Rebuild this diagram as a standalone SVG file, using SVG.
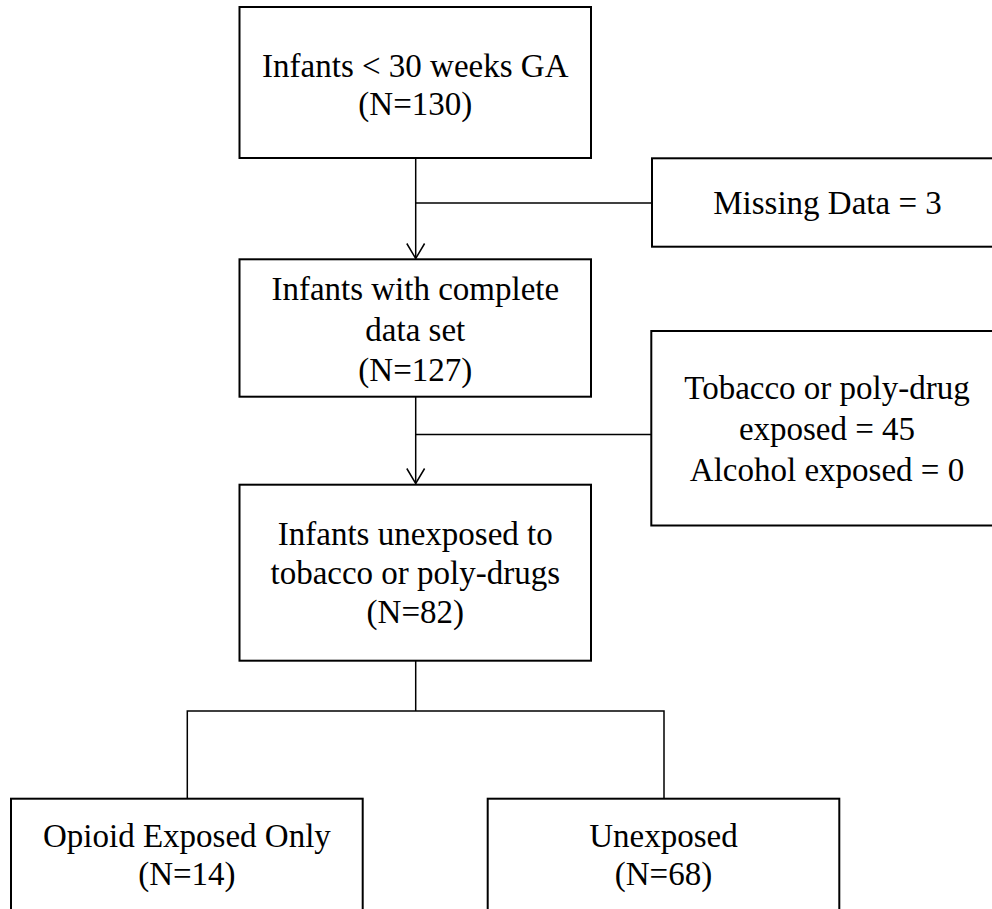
<svg xmlns="http://www.w3.org/2000/svg" width="992" height="909" viewBox="0 0 992 909">
<style>
.box{fill:#fff;stroke:#000;stroke-width:2}
.t{font-family:"Liberation Serif","Times New Roman",serif;font-size:33px;fill:#000;text-anchor:middle}
.c{fill:none;stroke:#000;stroke-width:1.5}
</style>
<rect width="992" height="909" fill="#fff"/>
<g id="connectors">
<line class="c" x1="415.7" y1="158" x2="415.7" y2="258"/>
<line class="c" x1="415.7" y1="203" x2="652" y2="203"/>
<polyline class="c" points="406.8,243.5 415.7,258.5 424.6,243.5"/>
<line class="c" x1="415.7" y1="397" x2="415.7" y2="483.5"/>
<line class="c" x1="415.7" y1="434.5" x2="651" y2="434.5"/>
<polyline class="c" points="406.8,468.5 415.7,483.5 424.6,468.5"/>
<line class="c" x1="415.7" y1="661" x2="415.7" y2="711"/>
<polyline class="c" points="187.3,799 187.3,711 664,711 664,799"/>
</g>
<g id="n1">
<rect class="box" x="239.5" y="7" width="351.5" height="151"/>
<text class="t" x="415.3" y="77">Infants &lt; 30 weeks GA</text>
<text class="t" x="415.3" y="115">(N=130)</text>
</g>
<g id="n_missing">
<rect class="box" x="652" y="158.3" width="360" height="88.4"/>
<text class="t" x="827.5" y="214">Missing Data = 3</text>
</g>
<g id="n2">
<rect class="box" x="239.5" y="259.3" width="351.5" height="137.4"/>
<text class="t" x="415.3" y="300">Infants with complete</text>
<text class="t" x="415.3" y="340.5">data set</text>
<text class="t" x="415.3" y="380.5">(N=127)</text>
</g>
<g id="n_tobacco">
<rect class="box" x="651.3" y="331" width="360" height="194.5"/>
<text class="t" x="827" y="399">Tobacco or poly-drug</text>
<text class="t" x="827" y="440">exposed = 45</text>
<text class="t" x="827" y="481">Alcohol exposed = 0</text>
</g>
<g id="n3">
<rect class="box" x="239.5" y="484.7" width="351.5" height="176"/>
<text class="t" x="415.3" y="545">Infants unexposed to</text>
<text class="t" x="415.3" y="583.5">tobacco or poly-drugs</text>
<text class="t" x="415.3" y="623">(N=82)</text>
</g>
<g id="n_opioid">
<rect class="box" x="11" y="798.7" width="351.7" height="140"/>
<text class="t" x="186.9" y="846.7">Opioid Exposed Only</text>
<text class="t" x="186.9" y="885">(N=14)</text>
</g>
<g id="n_unexposed">
<rect class="box" x="487.7" y="798.7" width="351.6" height="140"/>
<text class="t" x="663.5" y="847">Unexposed</text>
<text class="t" x="663.5" y="885">(N=68)</text>
</g>
</svg>
